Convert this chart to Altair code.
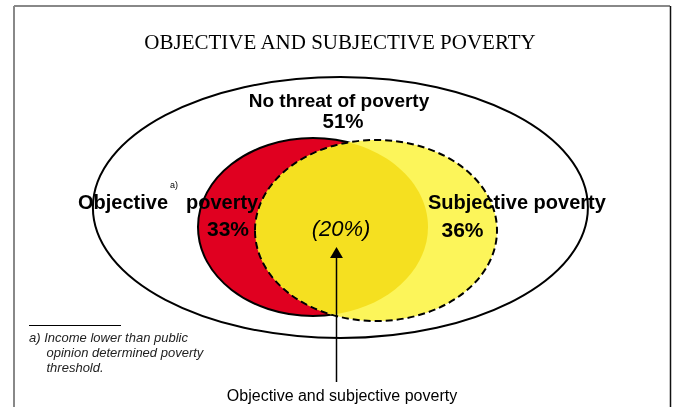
import altair as alt
import pandas as pd

# ---------------- data ----------------
title_text = "OBJECTIVE AND SUBJECTIVE POVERTY"
groups = ["No threat of poverty", "Objective poverty", "Subjective poverty",
          "Objective and subjective poverty"]
shares = [51, 33, 36, 20]
footnote_mark = "a)"
footnote_lines = ["a) Income lower than public", "opinion determined poverty", "threshold."]

# ---------------- layout (canvas pixels) ----------------
W, H = 675, 407
SANS = "Liberation Sans"
SERIF = "Liberation Serif"
RED = "#E00020"
LIGHT_YELLOW = "#FCF55A"
DARK_YELLOW = "#F5E020"

X = lambda f="x": alt.X(f"{f}:Q", scale=alt.Scale(domain=[0, W], nice=False, zero=False), axis=None)
Y = lambda f="y": alt.Y(f"{f}:Q", scale=alt.Scale(domain=[H, 0], nice=False, zero=False), axis=None)

# ellipse geometry: centre x, centre y, radius x, radius y
ell_outer = (340.4, 207.5, 247.5, 130.5)
ell_obj = (313.0, 227.0, 115.0, 89.0)
ell_subj = (376.0, 230.5, 121.0, 90.5)


def ellipse(geom, **mark):
    cx, cy, rx, ry = geom
    r = ry / rx
    path = f"M -1 0 A 1 {r:.5f} 0 1 1 1 0 A 1 {r:.5f} 0 1 1 -1 0 Z"
    return alt.Chart(pd.DataFrame({"x": [cx], "y": [cy]})).mark_point(
        shape=path, size=(2 * rx) ** 2, opacity=1, **mark
    ).encode(x=X(), y=Y())


def rule(x1, y1, x2, y2, **mark):
    return alt.Chart(pd.DataFrame({"x": [x1], "y": [y1], "x2": [x2], "y2": [y2]})).mark_rule(**mark).encode(
        x=X(), y=Y(), x2="x2:Q", y2="y2:Q")


def text(t, x, y, **mark):
    return alt.Chart(pd.DataFrame({"x": [x], "y": [y], "t": [t]})).mark_text(
        baseline="alphabetic", **mark).encode(x=X(), y=Y(), text="t:N")


# frame
frame = [
    rule(14, 6, 670, 6, color="#888888", strokeWidth=2),
    rule(14, 6, 14, 407, color="#888888", strokeWidth=2),
    rule(670.5, 6, 670.5, 407, color="#111111", strokeWidth=1.5),
]

shapes = [
    ellipse(ell_outer, fill="white", stroke="black", strokeWidth=2, filled=True),
    ellipse(ell_obj, fill=RED, stroke="black", strokeWidth=2, filled=True),
    ellipse(ell_subj, fill=LIGHT_YELLOW, stroke="black", strokeWidth=2, strokeDash=[7, 4], filled=True),
    ellipse(ell_obj, fill=DARK_YELLOW, strokeWidth=0, filled=True, blend="darken"),
]

obj_word, pov_word = groups[1].split()
labels = [
    text(title_text, 340, 49, align="center", font=SERIF, fontSize=21, color="black"),
    text(groups[0], 339, 106.5, align="center", font=SANS, fontSize=19, fontWeight="bold", color="black"),
    text(f"{shares[0]}%", 343, 127.5, align="center", font=SANS, fontSize=20.5, fontWeight="bold", color="black"),
    text(obj_word, 78, 209, align="left", font=SANS, fontSize=20, fontWeight="bold", color="black"),
    text(footnote_mark, 170, 188, align="left", font=SANS, fontSize=9, color="black"),
    text(pov_word, 186, 209, align="left", font=SANS, fontSize=20, fontWeight="bold", color="black"),
    text(f"{shares[1]}%", 228, 236, align="center", font=SANS, fontSize=21, fontWeight="bold", color="black"),
    text(f"({shares[3]}%)", 341, 236, align="center", font=SANS, fontSize=22, fontStyle="italic", color="black"),
    text(groups[2], 428, 209, align="left", font=SANS, fontSize=20, fontWeight="bold", color="black"),
    text(f"{shares[2]}%", 462.5, 237, align="center", font=SANS, fontSize=21, fontWeight="bold", color="black"),
    text(groups[3], 342, 401, align="center", font=SANS, fontSize=16, color="black"),
]

arrow = [
    rule(336.5, 382, 336.5, 256, color="black", strokeWidth=1.5),
    alt.Chart(pd.DataFrame({"x": [336.5], "y": [252.5]})).mark_point(
        shape="triangle-up", size=165, filled=True, fill="black", stroke=None, opacity=1
    ).encode(x=X(), y=Y()),
]

foot = [
    rule(29, 325.5, 121, 325.5, color="black", strokeWidth=1),
    text(footnote_lines[0], 29, 342, align="left", font=SANS, fontSize=13, fontStyle="italic", color="#222222"),
    text(footnote_lines[1], 46.5, 357, align="left", font=SANS, fontSize=13, fontStyle="italic", color="#222222"),
    text(footnote_lines[2], 46.5, 371.5, align="left", font=SANS, fontSize=13, fontStyle="italic", color="#222222"),
]

chart = alt.layer(*frame, *shapes, *arrow, *labels, *foot).properties(
    width=W, height=H, padding=0, autosize=alt.AutoSizeParams(type="none"), background="white"
).configure_view(stroke=None)

chart.save("out.html", embed_options={"renderer": "svg", "actions": False})
